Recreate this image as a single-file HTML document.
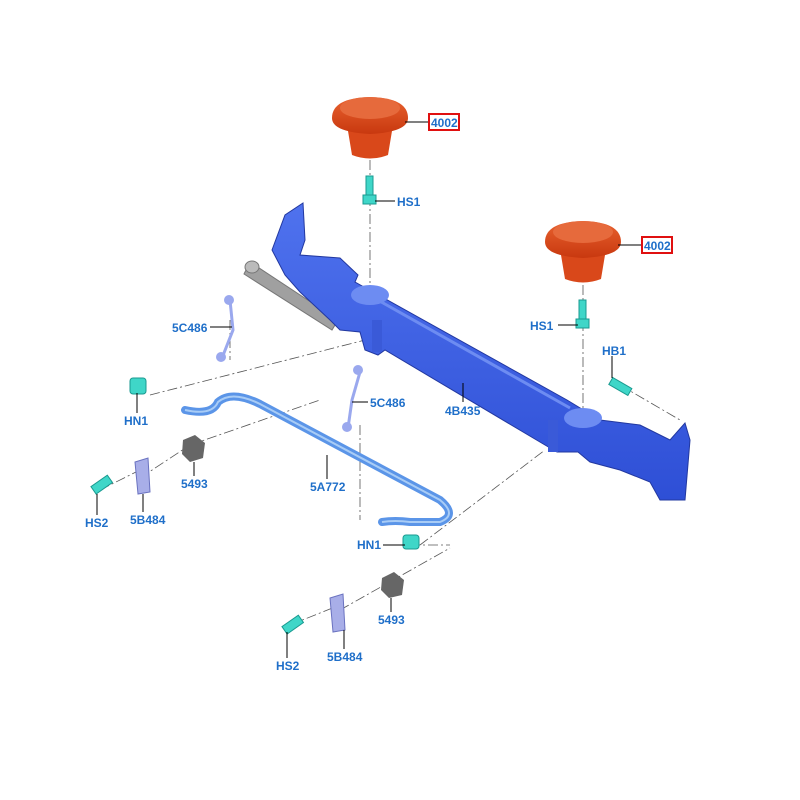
<!DOCTYPE html>
<html><head><meta charset="utf-8"><style>
html,body{margin:0;padding:0;background:#fff;}
svg{display:block;}
text{font-family:"Liberation Sans",sans-serif;font-size:12px;font-weight:bold;fill:#1f6fc9;}
</style></head><body>
<svg width="800" height="800" viewBox="0 0 800 800" xmlns="http://www.w3.org/2000/svg">
<defs>
<linearGradient id="or" x1="0" y1="0" x2="0" y2="1"><stop offset="0" stop-color="#e8622f"/><stop offset="1" stop-color="#c8380f"/></linearGradient>
<linearGradient id="bl" x1="0" y1="0" x2="0" y2="1"><stop offset="0" stop-color="#4f72ee"/><stop offset="1" stop-color="#2e4fd6"/></linearGradient>
</defs>
<g stroke="#555" stroke-width="0.8" stroke-dasharray="10,3,2,3" fill="none">
<line x1="370" y1="160" x2="370" y2="300"/>
<line x1="583" y1="285" x2="583" y2="420"/>
<line x1="150" y1="395" x2="365" y2="340"/>
<line x1="190" y1="445" x2="320" y2="400"/>
<line x1="140" y1="478" x2="190" y2="445"/>
<line x1="100" y1="490" x2="140" y2="470"/>
<line x1="420" y1="545" x2="545" y2="450"/>
<line x1="620" y1="385" x2="680" y2="420"/>
<line x1="230" y1="320" x2="230" y2="360"/>
<line x1="360" y1="425" x2="360" y2="520"/>
<line x1="410" y1="545" x2="450" y2="545"/>
<line x1="340" y1="610" x2="450" y2="548"/>
<line x1="290" y1="625" x2="340" y2="605"/>
</g>
<!-- shock -->
<path d="M250 262 L338 320 L332 330 L244 274 Z" fill="#a0a0a0" stroke="#777" stroke-width="1"/>
<ellipse cx="252" cy="267" rx="7" ry="6" fill="#bbb" stroke="#777"/>
<!-- axle beam -->
<path d="M272 250 L285 215 L303 203 L305 240 L300 255 L340 258 L358 275 L355 282 L567 400 L600 420 L640 425 L670 440 L685 423 L690 440 L685 500 L660 500 L650 482 L620 470 L590 462 L578 452 L557 452 L545 445 L385 350 L378 355 L365 350 L360 332 L340 330 L330 320 L300 292 L285 275 Z" fill="url(#bl)" stroke="#2238a0" stroke-width="1"/>
<path d="M360 290 L570 408" stroke="#6d8cf2" stroke-width="3" fill="none"/>
<rect x="372" y="320" width="10" height="32" fill="#3a5ad8"/>
<rect x="548" y="420" width="10" height="32" fill="#3a5ad8"/>
<ellipse cx="370" cy="295" rx="19" ry="10" fill="#6d8cf2"/>
<ellipse cx="583" cy="418" rx="19" ry="10" fill="#6d8cf2"/>
<!-- bump stops -->
<g>
<path d="M347 125 L393 125 L388 155 Q370 162 352 155 Z" fill="#d9481a"/>
<path d="M332 118 Q332 98 370 97 Q408 98 408 118 Q408 132 370 134 Q332 132 332 118 Z" fill="url(#or)"/>
<ellipse cx="370" cy="108" rx="30" ry="11" fill="#e66a3c"/>
<path d="M560 249 L606 249 L601 279 Q583 286 565 279 Z" fill="#d9481a"/>
<path d="M545 242 Q545 222 583 221 Q621 222 621 242 Q621 256 583 258 Q545 256 545 242 Z" fill="url(#or)"/>
<ellipse cx="583" cy="232" rx="30" ry="11" fill="#e66a3c"/>
</g>
<!-- bolts -->
<g fill="#3fd6c8" stroke="#1a9a90">
<rect x="366" y="176" width="7" height="20"/><rect x="363" y="195" width="13" height="9"/>
<rect x="579" y="300" width="7" height="20"/><rect x="576" y="319" width="13" height="9"/>
<rect x="610" y="380" width="22" height="8" transform="rotate(30 616 384)"/>
<rect x="130" y="378" width="16" height="16" rx="3"/>
<rect x="403" y="535" width="16" height="14" rx="3"/>
<rect x="92" y="480" width="20" height="9" transform="rotate(-35 102 485)"/>
<rect x="283" y="620" width="20" height="9" transform="rotate(-35 293 625)"/>
</g>
<!-- nuts -->
<polygon points="183,440 195,435 205,443 203,458 190,462 182,454" fill="#666"/>
<polygon points="382,578 394,572 404,580 402,595 389,598 381,590" fill="#666"/>
<!-- brackets -->
<path d="M135 462 L148 458 L150 492 L138 494 Z" fill="#a8aee8" stroke="#6a72c0"/>
<path d="M330 598 L343 594 L345 630 L333 632 Z" fill="#a8aee8" stroke="#6a72c0"/>
<!-- links -->
<g stroke="#9aa8ee" stroke-width="3" fill="none">
<path d="M230 300 L233 330 L222 358"/>
<path d="M360 372 L352 400 L348 428"/>
</g>
<circle cx="229" cy="300" r="5" fill="#9aa8ee"/><circle cx="221" cy="357" r="5" fill="#9aa8ee"/>
<circle cx="358" cy="370" r="5" fill="#9aa8ee"/><circle cx="347" cy="427" r="5" fill="#9aa8ee"/>
<!-- stabilizer bar -->
<path d="M185 410 Q212 416 218 402 Q232 390 260 404 L440 500 Q458 515 440 522 L410 522 Q395 520 382 522" stroke="#5b95e8" stroke-width="8" fill="none" stroke-linecap="round"/>
<path d="M185 410 Q212 416 218 402 Q232 390 260 404 L440 500 Q458 515 440 522 L410 522 Q395 520 382 522" stroke="#a8ccf6" stroke-width="2" fill="none"/>
<!-- leader lines -->
<g stroke="#000" stroke-width="1">
<line x1="405" y1="122" x2="428" y2="122"/><line x1="618" y1="245" x2="641" y2="245"/>
<line x1="375" y1="201" x2="395" y2="201"/><line x1="558" y1="325" x2="578" y2="325"/>
<line x1="612" y1="356" x2="612" y2="378"/><line x1="210" y1="327" x2="232" y2="327"/>
<line x1="352" y1="402" x2="368" y2="402"/><line x1="463" y1="383" x2="463" y2="402"/>
<line x1="137" y1="393" x2="137" y2="413"/><line x1="194" y1="462" x2="194" y2="476"/>
<line x1="327" y1="455" x2="327" y2="479"/><line x1="97" y1="494" x2="97" y2="515"/>
<line x1="143" y1="494" x2="143" y2="512"/><line x1="383" y1="545" x2="405" y2="545"/>
<line x1="391" y1="598" x2="391" y2="612"/><line x1="287" y1="632" x2="287" y2="658"/>
<line x1="344" y1="630" x2="344" y2="649"/>
</g>
<rect x="429" y="114" width="30" height="16" fill="none" stroke="#e01010" stroke-width="2"/>
<rect x="642" y="237" width="30" height="16" fill="none" stroke="#e01010" stroke-width="2"/>
<text x="431" y="127">4002</text><text x="644" y="250">4002</text>
<text x="397" y="206">HS1</text><text x="530" y="330">HS1</text><text x="602" y="355">HB1</text>
<text x="172" y="332">5C486</text><text x="370" y="407">5C486</text><text x="445" y="415">4B435</text>
<text x="124" y="425">HN1</text><text x="181" y="488">5493</text><text x="310" y="491">5A772</text>
<text x="85" y="527">HS2</text><text x="130" y="524">5B484</text><text x="357" y="549">HN1</text>
<text x="378" y="624">5493</text><text x="276" y="670">HS2</text><text x="327" y="661">5B484</text>
</svg>
</body></html>
